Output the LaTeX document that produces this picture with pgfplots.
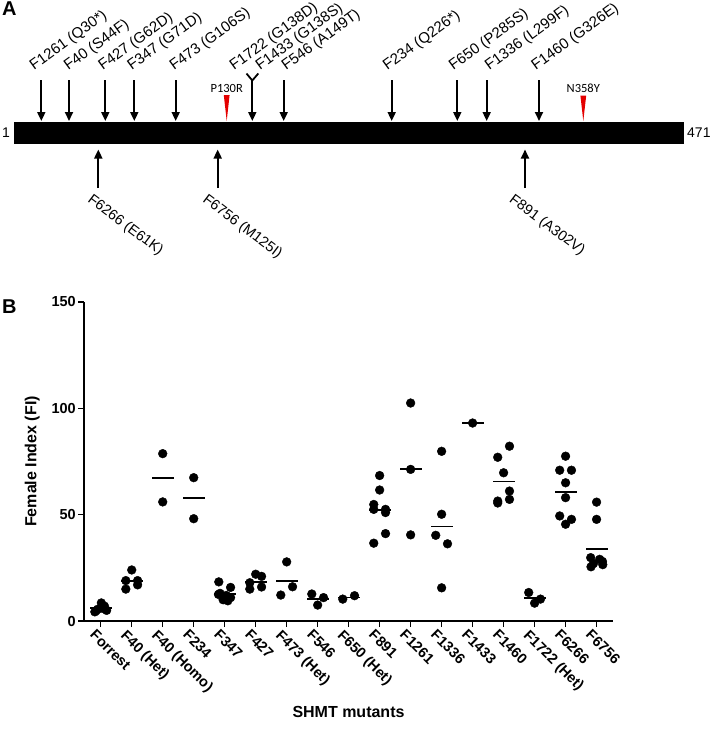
\documentclass[border=0pt]{standalone}
\usepackage{pgfplots}
\pgfplotsset{compat=1.18}
\usepackage{fontspec}
\setmainfont{Liberation Sans}
\newfontfamily\calib{Carlito}
\usetikzlibrary{arrows.meta}
\definecolor{mred}{RGB}{228,0,0}
\begin{document}
\begin{tikzpicture}[x=1pt,y=1pt]
\path[use as bounding box] (0,0) rectangle (711,-729);
% ---------------- Panel A ----------------
\begin{axis}[at={(0pt,0pt)}, anchor=north west, scale only axis,
  width=711pt, height=240pt, xmin=0, xmax=711, ymin=0, ymax=240,
  y dir=reverse, hide axis, clip=false]
\addplot[fill=black, draw=none] coordinates {(14,122) (684,122) (684,144) (14,144)} -- cycle;
% down arrows
\foreach \xx in {41.3,69,105.3,134.3,175.7,252.3,283.7,391.7,457.3,486.7,539}{
  \edef\tmp{\noexpand\addplot[line width=1.8pt, -{Triangle[width=8pt,length=9pt]}] coordinates {(\xx,80) (\xx,121)};}
  \tmp
}
\addplot[line width=1.8pt] coordinates {(246.5,73.5) (252.3,80.5) (258.3,73.5)};
% up arrows
\foreach \xx in {98.3,217.7,525}{
  \edef\tmp{\noexpand\addplot[line width=1.8pt, -{Triangle[width=8pt,length=9pt]}] coordinates {(\xx,188) (\xx,149.5)};}
  \tmp
}
% red triangles
\addplot[fill=mred, draw=none] coordinates {(223.8,95) (229.6,95) (226.7,121)} -- cycle;
\addplot[fill=mred, draw=none] coordinates {(580.4,95.5) (586.2,95.5) (583.3,121)} -- cycle;
\node[font=\calib\fontsize{12.5}{14}\selectfont, anchor=base] at (axis cs:226.7,92) {P130R};
\node[font=\calib\fontsize{12.5}{14}\selectfont, anchor=base] at (axis cs:583.3,92.5) {N358Y};
% labels above
\tikzset{lab/.style={font=\fontsize{15}{17}\selectfont, inner sep=0pt},
         labb/.style={font=\fontsize{14.5}{16}\selectfont, inner sep=0pt}}
\node[lab, rotate=36, anchor=base west] at (axis cs:34,71) {F1261 (Q30*)};
\node[lab, rotate=36, anchor=base west] at (axis cs:68.3,71) {F40 (S44F)};
\node[lab, rotate=36, anchor=base west] at (axis cs:102.7,71) {F427 (G62D)};
\node[lab, rotate=36, anchor=base west] at (axis cs:131.7,71) {F347 (G71D)};
\node[lab, rotate=36, anchor=base west] at (axis cs:174,71) {F473 (G106S)};
\node[lab, rotate=36, anchor=base west] at (axis cs:234,71) {F1722 (G138D)};
\node[lab, rotate=36, anchor=base west] at (axis cs:260,71) {F1433 (G138S)};
\node[lab, rotate=36, anchor=base west] at (axis cs:286,71) {F546 (A149T)};
\node[lab, rotate=36, anchor=base west] at (axis cs:387.3,71) {F234 (Q226*)};
\node[lab, rotate=36, anchor=base west] at (axis cs:453.3,71) {F650 (P285S)};
\node[lab, rotate=36, anchor=base west] at (axis cs:489.3,71) {F1336 (L299F)};
\node[lab, rotate=36, anchor=base west] at (axis cs:535.7,71) {F1460 (G326E)};
% labels below
\node[labb, rotate=-37, anchor=north west] at (axis cs:93.3,192.5) {F6266 (E61K)};
\node[labb, rotate=-37, anchor=north west] at (axis cs:208.3,192.5) {F6756 (M125I)};
\node[labb, rotate=-37, anchor=north west] at (axis cs:515,192.5) {F891 (A302V)};
% ends
\node[font=\fontsize{14}{16}\selectfont, anchor=east, inner sep=0pt] at (axis cs:10,133) {1};
\node[font=\fontsize{14}{16}\selectfont, anchor=west, inner sep=0pt] at (axis cs:687,133) {471};
\end{axis}
\node[font=\bfseries\fontsize{20}{22}\selectfont, anchor=north west, inner sep=0pt] at (2,-2) {A};
\node[font=\bfseries\fontsize{20}{22}\selectfont, anchor=north west, inner sep=0pt] at (2,-300) {B};
% ---------------- Panel B ----------------
\begin{axis}[at={(84pt,-621pt)}, anchor=south west, scale only axis,
  width=529pt, height=319pt,
  xmin=-0.54, xmax=16.53, ymin=0, ymax=150,
  axis x line*=bottom, axis y line*=left,
  axis line style={-, line width=1.6pt},
  ytick={0,50,100,150}, xtick={0,...,16},
  xticklabels={Forrest, F40 (Het), F40 (Homo), F234, F347, F427, F473 (Het), F546, F650 (Het), F891, F1261, F1336, F1433, F1460, F1722 (Het), F6266, F6756},
  tick align=outside, major tick length=6pt,
  tick style={line width=1.5pt, black},
  /pgf/number format/assume math mode=true,
  yticklabel style={font=\bfseries\fontsize{14.5}{16}\selectfont, inner sep=2pt},
  xticklabel style={font=\bfseries\fontsize{14.5}{16}\selectfont, rotate=-45, anchor=north west, inner sep=1pt, xshift=-3pt, yshift=-3pt},
  ylabel={Female Index (FI)}, xlabel={SHMT mutants},
  every axis y label/.append style={at={(axis description cs:-0.098,0.5)}, anchor=center, font=\bfseries\fontsize{16}{18}\selectfont},
  every axis x label/.append style={at={(axis description cs:0.5,-0.285)}, anchor=center, font=\bfseries\fontsize{16}{18}\selectfont},
  clip=false]
\addplot[only marks, mark=*, mark size=4.4pt, black] coordinates {
 (-0.19,4.3) (-0.1,5.5) (0.02,8.5) (0.12,7) (0.19,5) (0.05,6) (-0.15,4.8)
 (1,24) (0.81,15) (1.19,17) (0.81,19) (1.19,19)
 (2,78.7) (2,56)
 (3,67.4) (3,48.1)
 (3.81,18.4) (4.19,15.8) (3.85,13) (4.05,12) (4.19,11) (3.95,10) (4.1,9.5) (3.8,12.5)
 (5,22) (5.19,21) (4.81,18) (4.81,15) (5.19,16)
 (6,27.8) (5.81,12.2) (6.19,16.1)
 (6.81,12.7) (7,7.5) (7.19,11)
 (7.81,10.3) (8.19,11.9)
 (9,68.4) (9,61.6) (8.81,54.8) (8.81,52.5) (9.19,52.5) (9.19,51) (9.19,41.1) (8.81,36.6)
 (10,102.5) (10,71.3) (10,40.5)
 (11,79.8) (11,50.2) (10.81,40.3) (11.19,36.3) (11,15.6)
 (12,93.1)
 (13.19,82.2) (12.81,77) (13,69.7) (13.19,61.1) (13.19,57.2) (12.81,56.4) (12.81,55.5)
 (13.81,13.4) (14,8.4) (14.19,10.3)
 (15,77.5) (14.81,70.9) (15.19,70.9) (15,65) (15,58) (14.81,49.4) (15.19,47.8) (15,45.5)
 (16,55.9) (16,47.8) (15.81,29.8) (16.1,29) (16.19,28) (15.9,27) (16.2,26.5) (15.82,25.5)
};
% means
\addplot[only marks, mark=-, mark size=11pt, mark options={line width=1.8pt}, black] coordinates {
 (0,6) (1,18.8) (2,67.4) (3,57.7) (4,12.8) (5,18.4) (6,18.7) (7,10.4) (8,11.1)
 (9,52.3) (10,71.4) (11,44.4) (12,93.1) (13,65.6) (14,10.7) (15,60.6) (16,33.7)
};
\end{axis}
\end{tikzpicture}
\end{document}
